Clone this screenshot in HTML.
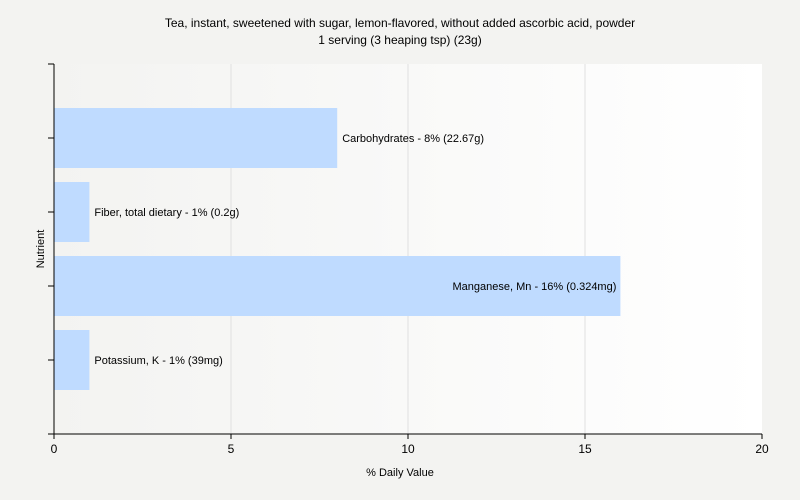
<!DOCTYPE html>
<html><head><meta charset="utf-8"><style>
html,body{margin:0;padding:0;width:800px;height:500px;overflow:hidden;background:#f3f3f1;font-family:"Liberation Sans",Arial,sans-serif}
svg{display:block}
svg text{font-family:"Liberation Sans",Arial,sans-serif}
</style></head><body>
<svg width="800" height="500">
<defs><linearGradient id="bg" x1="0" x2="1" y1="0" y2="0"><stop offset="0" stop-color="#f3f3f1"/><stop offset="1" stop-color="#ffffff"/></linearGradient></defs>
<rect x="0" y="0" width="800" height="500" fill="#f3f3f1"/>
<text x="400" y="27" text-anchor="middle" font-size="12">Tea, instant, sweetened with sugar, lemon-flavored, without added ascorbic acid, powder</text>
<text x="400" y="44" text-anchor="middle" font-size="12">1 serving (3 heaping tsp) (23g)</text>
<rect x="54" y="64" width="708" height="370" fill="url(#bg)"/>
<g id="grid"></g><g id="bars"></g><g id="axes"></g>
<text x="400" y="476" text-anchor="middle" font-size="11">% Daily Value</text>
<text x="0" y="0" transform="translate(44,249) rotate(-90)" text-anchor="middle" font-size="11">Nutrient</text>
</svg>
<script>
const categories=["Carbohydrates - 8% (22.67g)","Fiber, total dietary - 1% (0.2g)","Manganese, Mn - 16% (0.324mg)","Potassium, K - 1% (39mg)"];
const values=[8,1,16,1];
const xTicks=[0,5,10,15,20];
const NS="http://www.w3.org/2000/svg";
const x0=54,x1=762,y0=64,y1=434,band=(y1-y0)/(categories.length+1);
const xs=v=>x0+(v-xTicks[0])/(xTicks[xTicks.length-1]-xTicks[0])*(x1-x0);
function mk(t,a,p){const e=document.createElementNS(NS,t);for(const k in a)e.setAttribute(k,a[k]);p.appendChild(e);return e;}
const grid=document.getElementById('grid'),bars=document.getElementById('bars'),axes=document.getElementById('axes');
xTicks.forEach((t,i)=>{
 if(i>0&&i<xTicks.length-1){const g=mk('line',{x1:xs(t),x2:xs(t),y1:y0,y2:y1,stroke:'#e0e0e0'},grid);
 
 }
 const tk=mk('line',{x1:xs(t),x2:xs(t),y1:y1,y2:y1+5,stroke:'#000'},axes);
 
 
 const tx=mk('text',{x:xs(t),y:y1+19,'text-anchor':'middle','font-size':12},axes);tx.textContent=t;
 
 
});
categories.forEach((c,i)=>{
 const cy=y0+band*(i+1);
 const r=mk('rect',{x:x0,y:cy-30,width:xs(values[i])-x0,height:60,fill:'#bfdbff'},bars);
 
 
 const inside=xs(values[i])>x0+(x1-x0)*0.6;
 const t=mk('text',{x:inside?xs(values[i])-4:xs(values[i])+5,y:cy+4,'text-anchor':inside?'end':'start','font-size':11},bars);t.textContent=c;
 
 
});
for(let i=0;i<=categories.length+1;i++){const y=y0+band*i;
 const tk=mk('line',{x1:x0-6,x2:x0,y1:y,y2:y,stroke:'#000'},axes);
 
 }
const ya=mk('line',{x1:x0,x2:x0,y1:y0,y2:y1,stroke:'#000'},axes);


const xa=mk('line',{x1:x0-6,x2:x1,y1:y1,y2:y1,stroke:'#000'},axes);


</script>
</body></html>
